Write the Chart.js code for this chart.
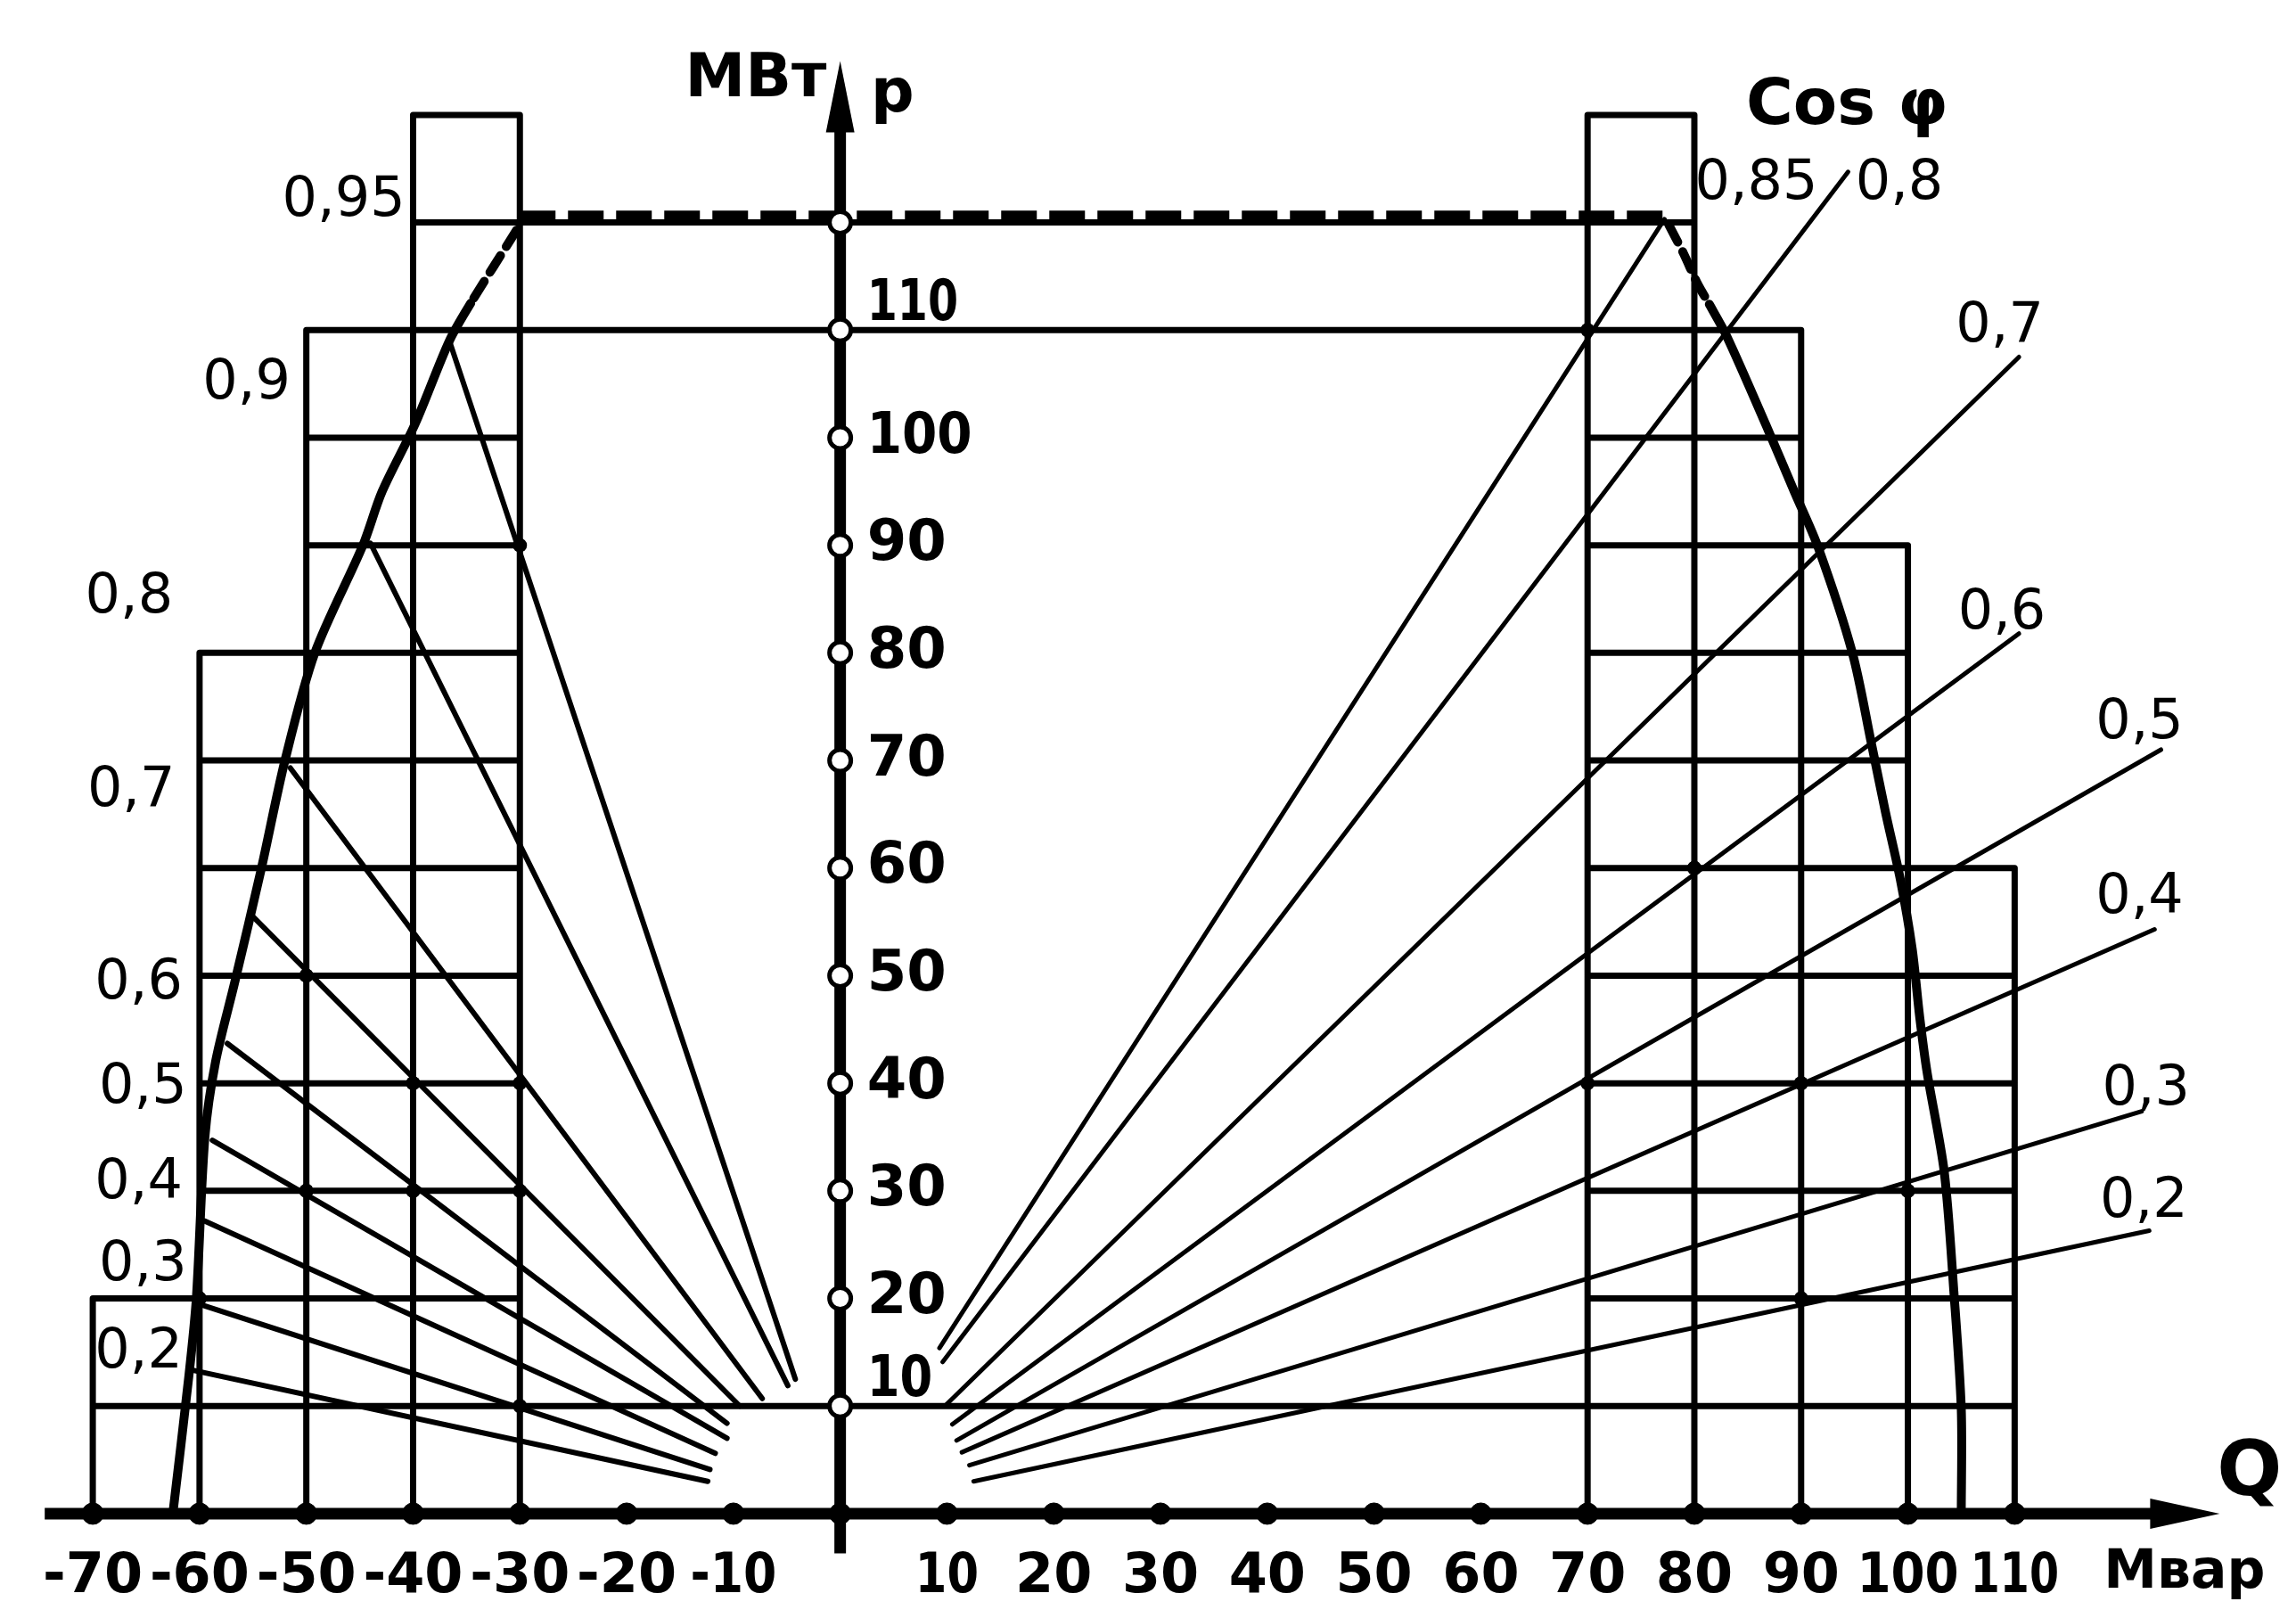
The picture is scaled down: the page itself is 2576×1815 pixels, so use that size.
<!DOCTYPE html>
<html lang="ru">
<head>
<meta charset="utf-8">
<title>P-Q diagram</title>
<script src="https://cdn.jsdelivr.net/npm/chart.js@4.4.1/dist/chart.umd.min.js"></script>
<style>
    html, body { margin: 0; padding: 0; background: #fff; }
    .chart-box { position: relative; width: 2576px; height: 1815px; }
</style>
</head>
<body>
<div class="chart-box"><canvas id="pqChart"></canvas></div>
<script>
// Axis ticks and labels
const qTicks = [-70, -60, -50, -40, -30, -20, -10, 10, 20, 30, 40, 50, 60, 70, 80, 90, 100, 110];
const pTicks = [10, 20, 30, 40, 50, 60, 70, 80, 90, 100, 110];
const pRings = [10, 20, 30, 40, 50, 60, 70, 80, 90, 100, 110, 120];
const pTicksAboveLine = [10, 110];
const qAxis = [-74.5, 129.2];
const pAxis = [-3.7, 135];

// Grid columns: [Q from, Q to, top P]
const leftColumns = [[-70, -60, 20], [-60, -50, 80], [-50, -40, 110], [-40, -30, 130]];
const rightColumns = [[70, 80, 130], [80, 90, 110], [90, 100, 90], [100, 110, 60]];
const bridgeLevels = [10, 110, 120];
const limitLine = [[-30, 120.6], [77.2, 120.6]];

// Capability curves (first segments dashed)
const leftCurve = [[-30.3, 119.3], [-34.6, 112.5], [-36.6, 109], [-39.8, 101.3], [-42.9, 95], [-44.7, 90],
    [-49.2, 80], [-52.0, 70], [-54.2, 60], [-56.7, 49.4], [-58.5, 42], [-59.5, 35], [-60.3, 20], [-61.0, 12.8], [-62.5, 0]];
const leftCurveDashed = 1;
const rightCurve = [[77.6, 119.8], [79.0, 117.1], [80.3, 114.3], [81.4, 112.4], [83.0, 109.5], [86.7, 101.2],
    [89.4, 94.9], [91.6, 89.8], [94.8, 80], [96.6, 71.5], [97.9, 65.2], [99.3, 58.9], [100.4, 52.5],
    [101.1, 46.2], [101.8, 41], [103.4, 31.8], [104.3, 20.7], [105.0, 9.7], [105.0, 0]];
const rightCurveDashed = 3;

// cos phi rays, leading side
const leftCos = ['0,95', '0,9', '0,8', '0,7', '0,6', '0,5', '0,4', '0,3', '0,2'];
const leftRayFrom = [[-36.6, 109], [-44.0, 90.2], [-51.5, 69.3], [-54.9, 55.4], [-57.4, 43.7],
    [-58.8, 34.7], [-59.5, 27.2], [-60.1, 19.5], [-60.5, 13.3]];
const leftRayTo = [[-4.2, 12.5], [-4.9, 11.9], [-7.3, 10.7], [-9.4, 10.0], [-10.6, 8.4],
    [-10.6, 7.0], [-11.7, 5.6], [-12.2, 4.1], [-12.4, 3.0]];
const leftCosAt = [[-46.5, 122.0], [-55.6, 105.0], [-66.6, 85.1], [-66.4, 67.1], [-65.7, 49.2],
    [-65.3, 39.5], [-65.7, 30.7], [-65.3, 23.0], [-65.7, 14.9]];

// cos phi rays, lagging side
const rightCos = ['0,85', '0,8', '0,7', '0,6', '0,5', '0,4', '0,3', '0,2'];
const rightRayFrom = [[9.3, 15.4], [9.6, 14.1], [9.8, 10.0], [10.5, 8.3], [10.9, 6.8], [11.4, 5.7], [12.1, 4.5], [12.5, 3.0]];
const rightRayTo = [[77.2, 120.3], [94.4, 124.7], [110.4, 107.5], [110.4, 81.8], [123.7, 71.0], [123.1, 54.3], [121.9, 37.4], [122.6, 26.3]];
const rightCosAt = [[85.8, 123.5], [99.2, 123.5], [108.6, 110.3], [108.8, 83.6], [121.7, 73.4], [121.7, 57.2], [122.3, 39.4], [122.1, 28.9]];

// Axis names
const axisNames = ['МВт', 'p', 'Cos φ', 'Q', 'Мвар'];
const axisNamesAt = [[-7.9, 133.2], [4.9, 131.8], [94.3, 130.7], [132.0, 3.6], [125.9, -5.6]];

// view window
const Q_MIN = -77.27, Q_MAX = 134.93, P_MIN = -8.29, P_MAX = 139.27;

function toPoints(segs) {
    const out = [];
    segs.forEach(function(s, i) {
        if (i > 0) out.push({x: null, y: null});
        s.forEach(function(p) { out.push({x: p[0], y: p[1]}); });
    });
    return out;
}

function columnSegments(cols) {
    const segs = [];
    cols.forEach(function(c) {
        segs.push([[c[0], 0], [c[0], c[2]]]);
        segs.push([[c[1], 0], [c[1], c[2]]]);
        for (let p = 10; p <= c[2]; p += 10) segs.push([[c[0], p], [c[1], p]]);
    });
    return segs;
}

function columnNodes(cols) {
    const nodes = [];
    cols.forEach(function(c) {
        for (let p = 10; p <= c[2]; p += 10) nodes.push([c[0], p], [c[1], p]);
    });
    return nodes;
}

function raySegments(from, to) {
    return from.map(function(a, i) { return [a, to[i]]; });
}

// grid nodes that a cos phi ray runs through get a dot, as on the drawing
function nodesOnRays(nodes, rays) {
    const hits = [];
    nodes.forEach(function(n) {
        const on = rays.some(function(r) {
            const a = r[0], b = r[1];
            const lo = Math.min(a[0], b[0]), hi = Math.max(a[0], b[0]);
            if (n[0] < lo || n[0] > hi) return false;
            const p = a[1] + (b[1] - a[1]) * (n[0] - a[0]) / (b[0] - a[0]);
            return Math.abs(p - n[1]) < 1.0;
        });
        if (on) hits.push({x: n[0], y: n[1]});
    });
    return hits;
}

function lineSet(points, width, order, extra) {
    return Object.assign({
        data: points,
        showLine: true,
        spanGaps: false,
        borderColor: '#000',
        borderWidth: width,
        pointRadius: 0,
        fill: false,
        tension: 0,
        borderCapStyle: 'round',
        borderJoinStyle: 'round',
        order: order
    }, extra || {});
}

// the hand-lettered "1" is narrower than a tabular digit, so squeeze those labels a little
function fillNumber(ctx, text, x, y) {
    const natural = ctx.measureText(text).width;
    const digit = ctx.measureText('0').width;
    const ones = text.split('1').length - 1;
    const k = ones ? (natural - ones * digit * 0.35) / natural : 1;
    ctx.save();
    ctx.translate(x, y);
    ctx.scale(k, 1);
    ctx.fillText(text, 0, 0);
    ctx.restore();
}

const gridSegs = columnSegments(leftColumns)
    .concat(columnSegments(rightColumns))
    .concat(bridgeLevels.map(function(p) { return [[-30, p], [70, p]]; }));

const allRays = raySegments(leftRayFrom, leftRayTo).concat(raySegments(rightRayFrom, rightRayTo));
const nodeDots = nodesOnRays(columnNodes(leftColumns).concat(columnNodes(rightColumns)), allRays);

const labelPlugin = {
    id: 'pqLabels',
    afterDatasetsDraw: function(chart) {
        const ctx = chart.ctx;
        const xs = chart.scales.x, ys = chart.scales.y;
        const px = function(q) { return xs.getPixelForValue(q); };
        const py = function(p) { return ys.getPixelForValue(p); };
        ctx.save();
        ctx.fillStyle = '#000';

        // arrow heads
        const qx = px(qAxis[1]), qy = py(0);
        ctx.beginPath();
        ctx.moveTo(qx, qy);
        ctx.lineTo(qx - 78, qy - 17);
        ctx.lineTo(qx - 78, qy + 17);
        ctx.closePath();
        ctx.fill();
        const ax = px(0), ay = py(pAxis[1]);
        ctx.beginPath();
        ctx.moveTo(ax, ay);
        ctx.lineTo(ax - 16, ay + 80);
        ctx.lineTo(ax + 16, ay + 80);
        ctx.closePath();
        ctx.fill();

        ctx.textBaseline = 'middle';

        // Q tick labels
        ctx.textAlign = 'center';
        ctx.font = 'bold 62px "DejaVu Sans"';
        qTicks.forEach(function(q) {
            fillNumber(ctx, String(q), px(q), py(0) + 72);
        });

        // P tick labels
        ctx.textAlign = 'left';
        ctx.font = 'bold 64px "DejaVu Sans"';
        pTicks.forEach(function(p) {
            const lift = pTicksAboveLine.indexOf(p) >= 0 ? 28 : 0;
            fillNumber(ctx, String(p), px(0) + 30, py(p) - lift);
        });

        // cos phi values
        ctx.textAlign = 'center';
        ctx.font = '62px "DejaVu Sans"';
        leftCos.forEach(function(t, i) {
            ctx.fillText(t, px(leftCosAt[i][0]), py(leftCosAt[i][1]));
        });
        rightCos.forEach(function(t, i) {
            ctx.fillText(t, px(rightCosAt[i][0]), py(rightCosAt[i][1]));
        });

        // axis names
        const fonts = ['bold 68px "DejaVu Sans"', 'bold 68px "DejaVu Sans"', 'bold 72px "DejaVu Sans"',
            'bold 86px "DejaVu Sans"', 'bold 60px "DejaVu Sans"'];
        axisNames.forEach(function(t, i) {
            ctx.font = fonts[i];
            ctx.fillText(t, px(axisNamesAt[i][0]), py(axisNamesAt[i][1]));
        });
        ctx.restore();
    }
};

const ctx = document.getElementById('pqChart').getContext('2d');
new Chart(ctx, {
    type: 'scatter',
    data: {
        datasets: [
            lineSet(toPoints(gridSegs), 7, 9),
            lineSet(toPoints([limitLine]), 12, 8, {borderDash: [40, 14], borderCapStyle: 'butt'}),
            lineSet(toPoints(raySegments(leftRayFrom, leftRayTo)), 6, 7),
            lineSet(toPoints(raySegments(rightRayFrom, rightRayTo)), 5, 7),
            lineSet(toPoints([leftCurve]), 10, 6, {
                tension: 0.3,
                segment: {
                    borderDash: function(c) { return c.p1DataIndex <= leftCurveDashed ? [22, 12] : undefined; }
                }
            }),
            lineSet(toPoints([rightCurve]), 10, 6, {
                tension: 0.3,
                segment: {
                    borderDash: function(c) { return c.p1DataIndex <= rightCurveDashed ? [22, 12] : undefined; }
                }
            }),
            lineSet(toPoints([[[qAxis[0], 0], [qAxis[1] - 4, 0]]]), 13, 5, {borderCapStyle: 'butt'}),
            lineSet(toPoints([[[0, pAxis[0]], [0, pAxis[1] - 4]]]), 13, 5, {borderCapStyle: 'butt'}),
            {
                data: nodeDots,
                pointRadius: 8,
                pointBackgroundColor: '#000',
                pointBorderColor: '#000',
                pointBorderWidth: 0,
                order: 4
            },
            {
                data: qTicks.concat([0]).map(function(q) { return {x: q, y: 0}; }),
                pointRadius: 12,
                pointBackgroundColor: '#000',
                pointBorderColor: '#000',
                pointBorderWidth: 1,
                order: 4
            },
            {
                data: pRings.map(function(p) { return {x: 0, y: p}; }),
                pointRadius: 12,
                pointBackgroundColor: '#fff',
                pointBorderColor: '#000',
                pointBorderWidth: 5,
                order: 3
            }
        ]
    },
    options: {
        responsive: true,
        maintainAspectRatio: false,
        animation: false,
        events: [],
        layout: { padding: 0 },
        scales: {
            x: { type: 'linear', min: Q_MIN, max: Q_MAX, display: false },
            y: { type: 'linear', min: P_MIN, max: P_MAX, display: false }
        },
        plugins: {
            legend: { display: false },
            tooltip: { enabled: false }
        }
    },
    plugins: [labelPlugin]
});
</script>
</body>
</html>
